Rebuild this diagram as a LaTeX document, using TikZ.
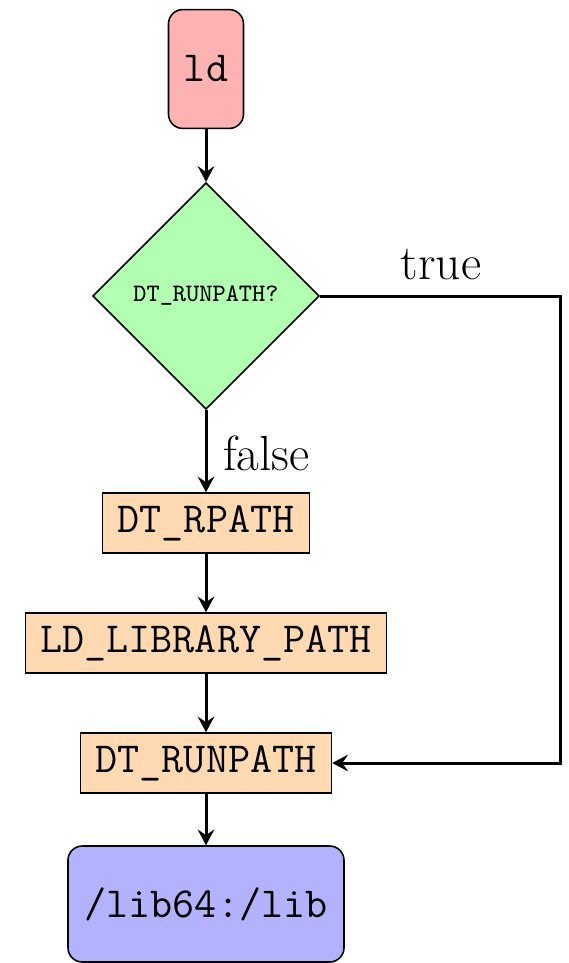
\documentclass[tikz,border=0pt]{standalone}
\usetikzlibrary{shapes.geometric,arrows.meta}
\begin{document}
\begin{tikzpicture}[x=0.35pt,y=-0.35pt,
  flow/.style={draw=black, line width=0.55pt, font=\fontsize{15}{18}\selectfont\ttfamily},
  terminal/.style={flow, rounded corners=5pt, inner xsep=5pt},
  stepbox/.style={flow, fill=orange!30, minimum height=21pt, inner xsep=5.3pt, inner ysep=0pt},
  decision/.style={flow, diamond, fill=green!30, minimum size=79.3pt, inner sep=0pt,
    font=\fontsize{8.8}{10}\selectfont\ttfamily},
  link/.style={line width=1.05pt, -{Stealth[length=5.5pt,width=5.8pt,inset=2pt]}},
  lbl/.style={font=\LARGE\rmfamily}]
\useasboundingbox (0,0) rectangle (569,963);

\node[terminal, fill=red!30, minimum width=26.25pt, minimum height=41.6pt] (ld) at (206,69) {ld};
\node[decision] (dq) at (206,296) {DT\_RUNPATH?};
\node[stepbox] (rpath) at (206,523) {DT\_RPATH};
\node[stepbox] (ldlp) at (206,643) {LD\_LIBRARY\_PATH};
\node[stepbox] (runp) at (206,763) {DT\_RUNPATH};
\node[terminal, fill=blue!30, minimum width=96.6pt, minimum height=40.6pt] (lib) at (206,904) {/lib64:/lib};

\coordinate (corner) at (560,296);

\draw[link] (ld) -- (dq);
\draw[link] (dq) -- (rpath);
\draw[link] (rpath) -- (ldlp);
\draw[link] (ldlp) -- (runp);
\draw[link] (runp) -- (lib);
\draw[link] (dq.east) -- (corner) |- (runp.east);

\node[lbl] (tlabel) at (441,265) {true};
\node[lbl, anchor=west] (flabel) at (213,453) {false};
\end{tikzpicture}
\end{document}
